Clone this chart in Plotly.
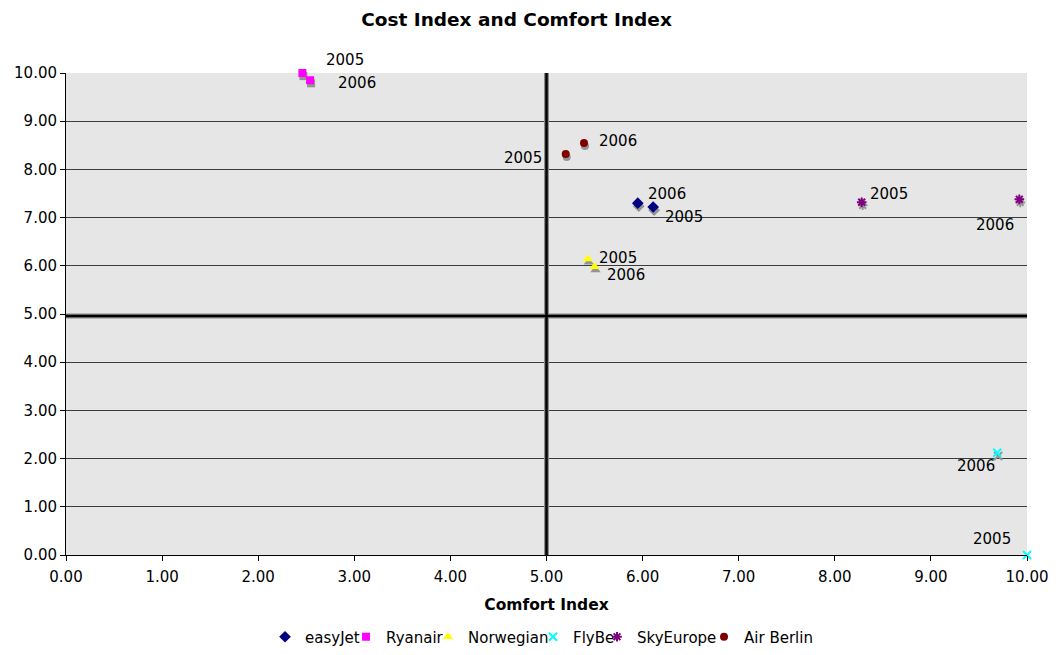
import plotly.graph_objects as go

# ---- data ----
airlines = ["easyJet", "Ryanair", "Norwegian", "FlyBe", "SkyEurope", "Air Berlin"]
years = ["2005", "2006"]
comfort_2005 = [6.11, 2.46, 5.43, 10.00, 8.28, 5.20]
cost_2005 = [7.22, 10.00, 6.14, 0.00, 7.32, 8.32]
comfort_2006 = [5.95, 2.54, 5.50, 9.69, 9.92, 5.39]
cost_2006 = [7.30, 9.85, 5.98, 2.12, 7.38, 8.55]
axis_ticks = [0, 1, 2, 3, 4, 5, 6, 7, 8, 9, 10]
comfort_divider = [5.0, 5.0]
cost_divider = [4.96, 4.96]
axis_span = [0, 10]

# ---- styles ----
colors = ["#000080", "#FF00FF", "#FFFF00", "#00FFFF", "#800080", "#800000"]
symbols = ["diamond", "square", "triangle-up", "x-thin-open", "asterisk-open", "circle"]
sizes = [9, 8, 9, 8, 8, 8]
legend_widths = [36, 37, 60, 19, 62, 67]
# label pixel offsets (dx, dy) per airline: [2005, 2006]
label_offsets = [
    [(31, 8), (29, -11)],
    [(43, -15), (47, 1)],
    [(30, -3), (31, 7)],
    [(-35, -18), (-21, 12)],
    [(27, -10), (-24, 24)],
    [(-43, 3), (34, -3)],
]

FONT = "DejaVu Sans, Verdana, sans-serif"
fig = go.Figure()

def marker_for(i, color):
    sym = symbols[i]
    if sym.endswith("open"):
        return dict(symbol=sym, size=sizes[i], color=color, line=dict(color=color, width=2))
    return dict(symbol=sym, size=sizes[i], color=color, line=dict(width=0))

# shadows on the (hidden, slightly shifted) base axes
for i, name in enumerate(airlines):
    fig.add_trace(go.Scatter(x=[comfort_2005[i], comfort_2006[i]], y=[cost_2005[i], cost_2006[i]],
                             mode="markers", marker=marker_for(i, "#949494"),
                             xaxis="x", yaxis="y", showlegend=False, hoverinfo="skip",
                             cliponaxis=False))

# divider lines
for w, c in [(5, "#8a8a8a"), (2.5, "#000000")]:
    fig.add_trace(go.Scatter(x=comfort_divider, y=axis_span, mode="lines", xaxis="x2", yaxis="y2",
                             line=dict(color=c, width=w), showlegend=False, hoverinfo="skip"))
    fig.add_trace(go.Scatter(x=axis_span, y=cost_divider, mode="lines", xaxis="x2", yaxis="y2",
                             line=dict(color=c, width=w), showlegend=False, hoverinfo="skip"))

# main series
for i, name in enumerate(airlines):
    fig.add_trace(go.Scatter(x=[comfort_2005[i], comfort_2006[i]], y=[cost_2005[i], cost_2006[i]],
                             mode="markers", name=name, marker=marker_for(i, colors[i]),
                             xaxis="x2", yaxis="y2", cliponaxis=False,
                             legendwidth=legend_widths[i]))

annotations = []
for i, name in enumerate(airlines):
    pts = [(comfort_2005[i], cost_2005[i]), (comfort_2006[i], cost_2006[i])]
    for j, (xv, yv) in enumerate(pts):
        dx, dy = label_offsets[i][j]
        annotations.append(dict(x=xv, y=yv, xref="x2", yref="y2", text=years[j], showarrow=False,
                                xshift=dx, yshift=-dy - 1.5,
                                font=dict(family=FONT, size=15, color="#000000")))

fig.update_layout(
    width=1050, height=647,
    margin=dict(l=58, r=31.3, t=65.3, b=100.3),
    paper_bgcolor="#FFFFFF", plot_bgcolor="#E6E6E6",
    font=dict(family=FONT, size=15, color="#000000"),
    title=dict(text="<b>Cost Index and Comfort Index</b>", x=0.4843, xanchor="center",
               y=0.9815, yanchor="middle", font=dict(family=FONT, size=18.5, color="#000000")),
    xaxis=dict(range=[-0.01, 9.99], visible=False, automargin=False),
    yaxis=dict(range=[0.065, 10.065], visible=False, automargin=False),
    xaxis2=dict(range=[0, 10], overlaying="x", tickvals=axis_ticks, tickformat=".2f", showgrid=False,
                zeroline=False, showline=True, linecolor="#000000", linewidth=1,
                ticks="outside", ticklen=5, tickcolor="#000000", ticklabelstandoff=3,
                automargin=False,
                title=dict(text="<b>Comfort Index</b>", font=dict(family=FONT, size=15.5), standoff=14),
                tickfont=dict(family=FONT, size=15)),
    yaxis2=dict(range=[0, 10], overlaying="y", tickvals=axis_ticks, tickformat=".2f", showgrid=True,
                gridcolor="#3c3c3c", gridwidth=1, zeroline=False, showline=True,
                linecolor="#000000", linewidth=1, ticks="outside", ticklen=5, tickcolor="#000000",
                automargin=False, tickfont=dict(family=FONT, size=15)),
    legend=dict(orientation="h", x=0.2071, xanchor="left", y=0.0278, yanchor="middle",
                yref="container",
                font=dict(family=FONT, size=15), itemwidth=30, tracegroupgap=0),
    annotations=annotations,
    showlegend=True,
)

fig.write_html("out.html")
